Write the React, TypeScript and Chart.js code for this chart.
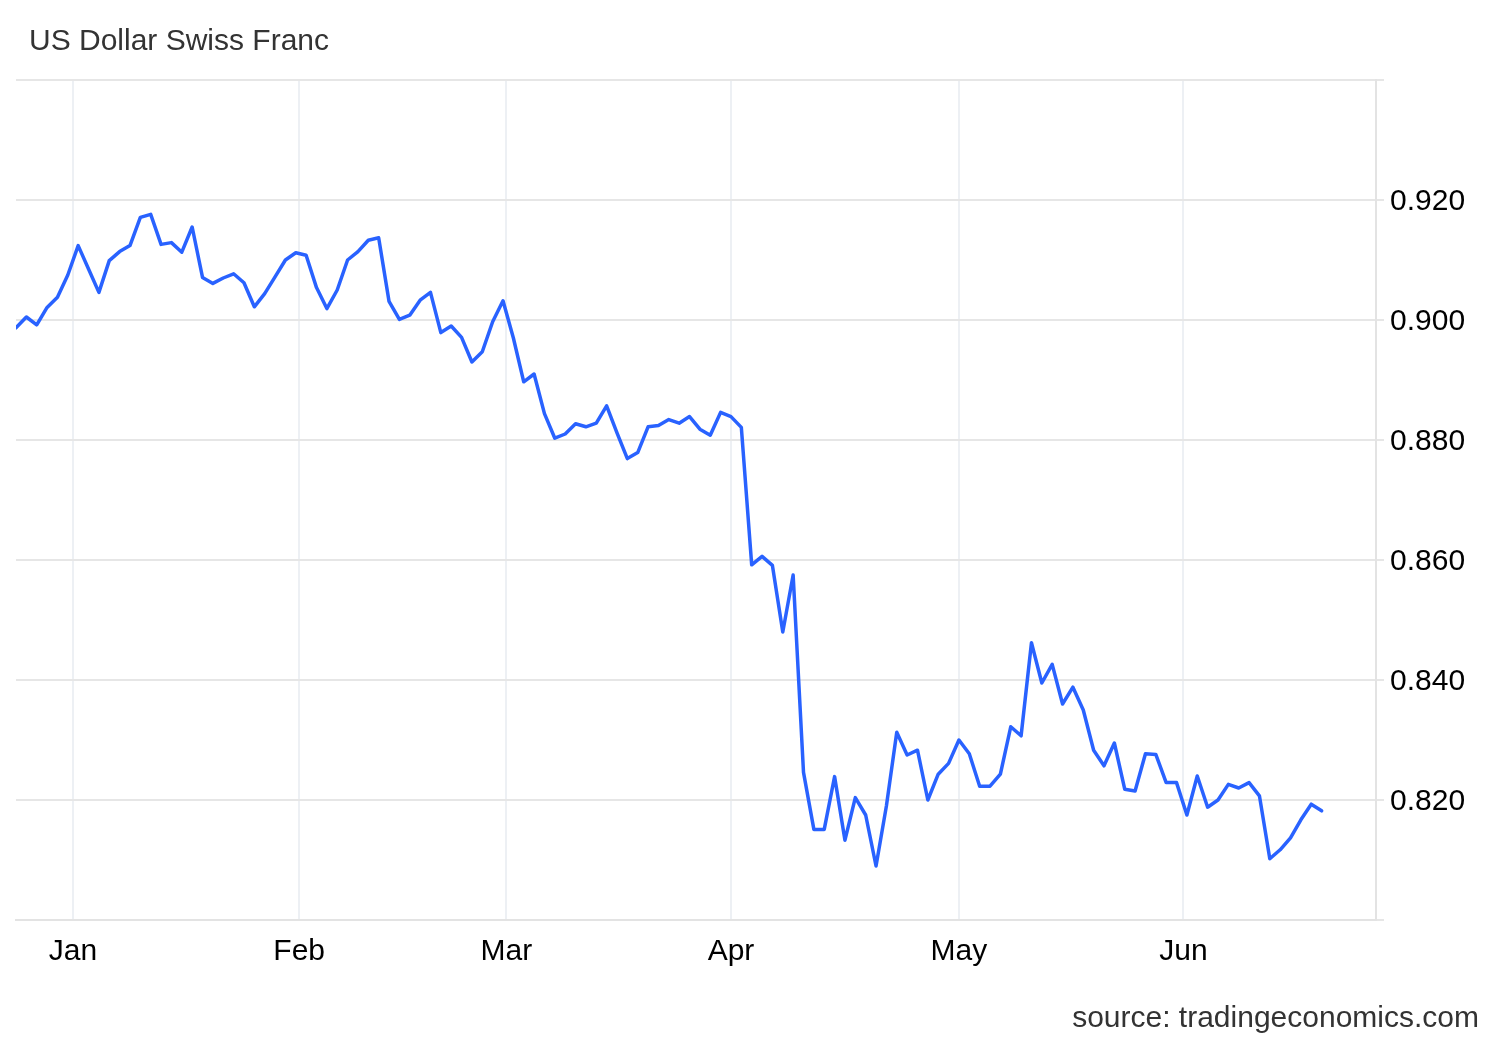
import React, { useEffect, useRef } from "react";
import { Chart, registerables } from "chart.js";

Chart.register(...registerables);

const chartTitle = "US Dollar Swiss Franc";
const sourceText = "source: tradingeconomics.com";

// Daily USD/CHF closes (trading days, late Dec → mid Jun)
const usdChf: number[] = [
  0.8987, 0.9005, 0.8992, 0.9021, 0.9038, 0.9075, 0.9124, 0.9085, 0.9046, 0.9099,
  0.9114, 0.9124, 0.9171, 0.9176, 0.9126, 0.9129, 0.9113, 0.9155, 0.9071, 0.9061,
  0.9070, 0.9077, 0.9062, 0.9022, 0.9044, 0.9072, 0.9100, 0.9112, 0.9108, 0.9054,
  0.9019, 0.9050, 0.9100, 0.9114, 0.9133, 0.9137, 0.9031, 0.9001, 0.9008, 0.9033,
  0.9046, 0.8979, 0.8990, 0.8971, 0.8930, 0.8947, 0.8997, 0.9032, 0.8970, 0.8897,
  0.8910, 0.8844, 0.8803, 0.8810, 0.8827, 0.8822, 0.8828, 0.8857, 0.8812, 0.8769,
  0.8779, 0.8822, 0.8824, 0.8834, 0.8828, 0.8839, 0.8818, 0.8808, 0.8846, 0.8839,
  0.8821, 0.8592, 0.8606, 0.8591, 0.8480, 0.8575, 0.8246, 0.8151, 0.8151, 0.8239,
  0.8133, 0.8204, 0.8175, 0.8090, 0.8190, 0.8313, 0.8275, 0.8283, 0.8200, 0.8243,
  0.8261, 0.8300, 0.8277, 0.8223, 0.8223, 0.8243, 0.8322, 0.8307, 0.8462, 0.8395,
  0.8426, 0.8360, 0.8388, 0.8350, 0.8283, 0.8257, 0.8295, 0.8218, 0.8215, 0.8277,
  0.8276, 0.8229, 0.8229, 0.8175, 0.8240, 0.8188, 0.8200, 0.8226, 0.8220, 0.8229,
  0.8207, 0.8102, 0.8117, 0.8137, 0.8167, 0.8193, 0.8182,
];

// Month boundaries on the trading-day (ordinal) axis
const monthLabels = ["Jan", "Feb", "Mar", "Apr", "May", "Jun"];
const monthTickPositions = [5.5, 27.33, 47.33, 69, 91, 112.67];

const yTickValues = [0.8, 0.82, 0.84, 0.86, 0.88, 0.9, 0.92, 0.94];
const yTickLabels = ["", "0.820", "0.840", "0.860", "0.880", "0.900", "0.920", ""];

const X_MIN = 0;
const X_MAX = 131.25;
const Y_MIN = 0.8;
const Y_MAX = 0.94;

const FONT = '"Liberation Sans", Arial, Helvetica, sans-serif';

export default function App() {
  const canvasRef = useRef<HTMLCanvasElement | null>(null);

  useEffect(() => {
    if (!canvasRef.current) return;
    Chart.defaults.font.family = FONT;
    const points = usdChf.map((v, i) => ({ x: i, y: v }));
    const chart = new Chart(canvasRef.current, {
      type: "line",
      data: {
        datasets: [
          {
            label: chartTitle,
            data: points,
            borderColor: "#2962ff",
            borderWidth: 3.5,
            pointRadius: 0,
            tension: 0,
            fill: false,
            borderJoinStyle: "round",
            borderCapStyle: "round",
          },
        ],
      },
      options: {
        animation: false,
        responsive: false,
        maintainAspectRatio: false,
        events: [],
        layout: { padding: { top: 80, left: 16, right: 0, bottom: 0 } },
        plugins: {
          legend: { display: false },
          title: { display: false },
          tooltip: { enabled: false },
        },
        scales: {
          x: {
            type: "linear",
            min: X_MIN,
            max: X_MAX,
            afterBuildTicks: (scale: any) => {
              scale.ticks = monthTickPositions.map((v) => ({ value: v }));
            },
            afterFit: (scale: any) => {
              scale.height = 120;
            },
            ticks: {
              autoSkip: false,
              maxRotation: 0,
              minRotation: 0,
              padding: 14,
              color: "#000000",
              font: { size: 30, family: FONT },
              callback: (_v: any, i: number) => monthLabels[i],
            },
            grid: {
              color: "#edf0f4",
              lineWidth: 2,
              drawTicks: false,
              tickLength: 0,
            },
            border: { display: true, color: "#e3e3e3", width: 2 },
          },
          y: {
            type: "linear",
            position: "right",
            min: Y_MIN,
            max: Y_MAX,
            afterBuildTicks: (scale: any) => {
              scale.ticks = yTickValues.map((v) => ({ value: v }));
            },
            afterFit: (scale: any) => {
              scale.width = 124;
            },
            ticks: {
              padding: 6,
              labelOffset: 2,
              color: "#000000",
              font: { size: 30, family: FONT },
              callback: (_v: any, i: number) => yTickLabels[i],
            },
            grid: {
              color: "#e6e6e6",
              lineWidth: 2,
              drawTicks: true,
              tickLength: 8,
            },
            border: { display: true, color: "#e3e3e3", width: 2 },
          },
        },
      },
    });
    return () => chart.destroy();
  }, []);

  return (
    <div
      style={{
        position: "absolute",
        left: 0,
        top: 0,
        width: 1500,
        height: 1040,
        background: "#ffffff",
        fontFamily: FONT,
      }}
    >
      <canvas
        ref={canvasRef}
        width={1500}
        height={1040}
        style={{ position: "absolute", left: 0, top: 0, width: 1500, height: 1040 }}
      />
      <div
        style={{
          position: "absolute",
          left: 29,
          top: 25,
          fontSize: 30,
          lineHeight: "30px",
          color: "#333333",
          whiteSpace: "nowrap",
        }}
      >
        {chartTitle}
      </div>
      <div
        style={{
          position: "absolute",
          right: 21,
          top: 1002,
          fontSize: 30,
          lineHeight: "30px",
          color: "#333333",
          whiteSpace: "nowrap",
        }}
      >
        {sourceText}
      </div>
    </div>
  );
}
